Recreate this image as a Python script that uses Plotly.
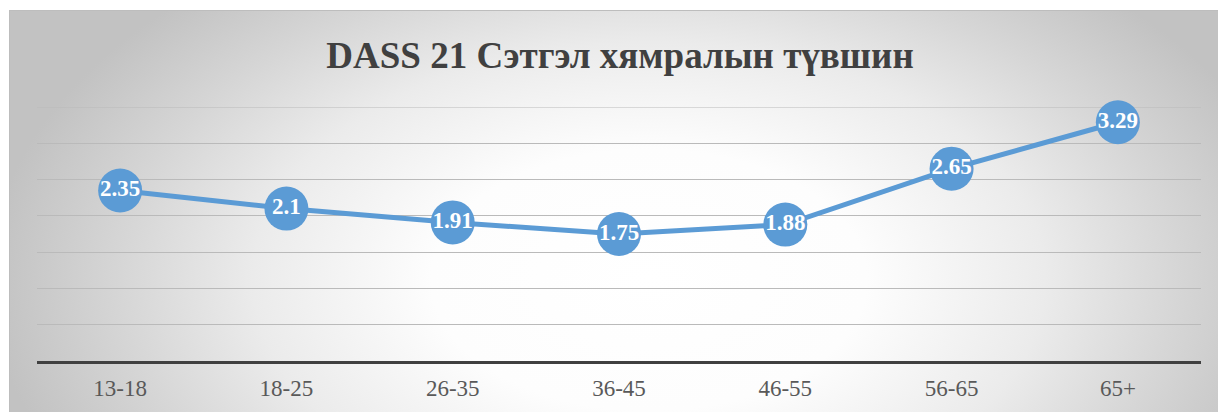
import base64
import plotly.graph_objects as go

# Age groups and average depression score
age_groups = ["13-18", "18-25", "26-35", "36-45", "46-55", "56-65", "65+"]
scores = [2.35, 2.1, 1.91, 1.75, 1.88, 2.65, 3.29]
score_labels = ["2.35", "2.1", "1.91", "1.75", "1.88", "2.65", "3.29"]
y_max = 3.5

W, H = 1218, 412
L, R, T, B = 37, 17, 107, 51
PW, PH = W - L - R, H - T - B
GRID = "#bababa"

# Radial grey backdrop with a thin frame for the chart area
bg_w, bg_h = 1220, 410
cx, cy = 640, 270
svg = f"""<svg xmlns='http://www.w3.org/2000/svg' width='{bg_w}' height='{bg_h}' viewBox='0 0 {bg_w} {bg_h}' preserveAspectRatio='none'>
<defs><radialGradient id='g' gradientUnits='userSpaceOnUse' cx='{cx}' cy='{cy}' r='660' fx='{cx}' fy='{cy}'
 gradientTransform='translate({cx},{cy}) scale(1,0.6) translate({-cx},{-cy})'>
<stop offset='0' stop-color='#ffffff'/>
<stop offset='0.33' stop-color='#fdfdfd'/>
<stop offset='0.6' stop-color='#ebebeb'/>
<stop offset='0.8' stop-color='#d6d6d6'/>
<stop offset='1' stop-color='#c2c2c2'/>
</radialGradient></defs>
<rect x='0.5' y='0.5' width='{bg_w - 1}' height='{bg_h - 1}' fill='url(#g)' stroke='#bdbdbd' stroke-width='1'/>
</svg>"""
bg_src = "data:image/svg+xml;base64," + base64.b64encode(svg.encode()).decode()

fig = go.Figure()
fig.add_trace(go.Scatter(
    x=age_groups,
    y=scores,
    mode="lines+markers+text",
    line=dict(color="#5b9bd5", width=5),
    marker=dict(size=44, color="#5b9bd5"),
    text=score_labels,
    textposition="middle center",
    textfont=dict(family="Liberation Serif", size=23, color="white", weight="bold"),
    cliponaxis=False,
    hoverinfo="skip",
))

fig.add_layout_image(
    source=bg_src,
    xref="paper", yref="paper",
    x=(9 - L) / PW, y=(H - B - 10) / PH,
    sizex=bg_w / PW, sizey=bg_h / PH,
    xanchor="left", yanchor="top",
    sizing="stretch", layer="below",
)

# Top gridline at the end of the value range
fig.add_shape(
    type="line", xref="paper", yref="y",
    x0=0, x1=1, y0=y_max, y1=y_max,
    line=dict(color=GRID, width=1), layer="below",
)

fig.update_layout(
    width=W, height=H,
    margin=dict(l=L, r=R, t=T, b=B),
    paper_bgcolor="white",
    plot_bgcolor="rgba(0,0,0,0)",
    showlegend=False,
    title=dict(
        text="<b>DASS 21 Сэтгэл хямралын түвшин</b>",
        font=dict(family="Liberation Serif", size=37, color="#404040"),
        x=620 / W, xanchor="center",
        y=1 - 55 / H, yanchor="middle", yref="container",
    ),
    xaxis=dict(
        type="category",
        range=[-0.5, 6.5],
        showgrid=False,
        showline=True, linecolor="#404040", linewidth=3,
        ticks="outside", ticklen=4, tickcolor="rgba(0,0,0,0)",
        tickfont=dict(family="Liberation Serif", size=23, color="#595959"),
        automargin=False,
        fixedrange=True,
    ),
    yaxis=dict(
        range=[0, y_max],
        tick0=0,
        dtick=0.5,
        showticklabels=False,
        showgrid=True, gridcolor=GRID, gridwidth=1,
        zeroline=False, showline=False,
        automargin=False,
        fixedrange=True,
    ),
)

fig.write_html("out.html")
